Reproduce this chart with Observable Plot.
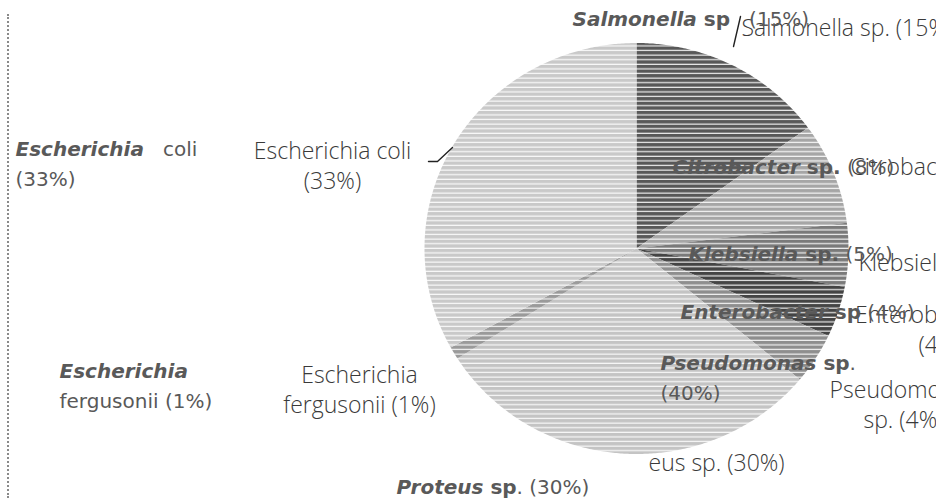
<!DOCTYPE html>
<html><head><meta charset="utf-8">
<script src="https://cdn.jsdelivr.net/npm/d3@7"></script>
<script src="https://cdn.jsdelivr.net/npm/@observablehq/plot@0.6"></script>
<style>
body{margin:0;background:#fff;}
#wrap{position:relative;width:936px;height:498px;overflow:hidden;}
#border{position:absolute;left:7px;top:14px;bottom:0;border-left:2px dotted #8a8a8a;}
</style></head>
<body><div id="wrap"><div id="border"></div></div>
<script>
// ---- data ----
const categories = ["Salmonella sp.", "Citrobacter sp.", "Klebsiella sp.", "Enterobacter sp.", "Pseudomonas sp.", "Proteus sp.", "Escherichia fergusonii", "Escherichia coli"];
const values = [15, 8, 5, 4, 4, 30, 1, 33];
const shades = ["#585858", "#a6a6a6", "#7a7a7a", "#444444", "#8e8e8e", "#c4c4c4", "#9a9a9a", "#c9c9c9"];
const thinLabels = ["Salmonella sp. (15%)", "Citrobacter sp. (8%)", "Klebsiella sp. (5%)", "Enterobacter sp.\n(4%)", "Pseudomonas\nsp. (4%)", "eus sp. (30%)", "Escherichia\nfergusonii (1%)", "Escherichia coli\n(33%)"];
const boldLabels = [
  [[["Salmonella","bi"],[" sp","b"],["   (15%)","r"]]],
  [[["Citrobacter","bi"],[" sp.","b"],[" (8%)","r"]]],
  [[["Klebsiella","bi"],[" sp.","b"],[" (5%)","r"]]],
  [[["Enterobacter","bi"],[" sp","b"],[" (4%)","r"]]],
  [[["Pseudomonas","bi"],[" sp","b"],[".","r"]],[["(40%)","r"]]],
  [[["Proteus","bi"],[" sp","b"],[". (30%)","r"]]],
  [[["Escherichia","bi"]],[["fergusonii (1%)","r"]]],
  [[["Escherichia","bi"],["   coli","r"]],[["(33%)","r"]]]
];

// ---- layout (pixels) ----
const pie = {cx: 636, cy: 248, rx: 212, ry: 205.5};
const boldPos = [[572,25],[672,173],[688,260],[680,318],[660,369],[396,493],[59,377],[15,155]];
const boldGap = 30;
const thinPos = [[741,35,"start"],[850,174,"start"],[858,270,"start"],[940,352,"middle"],[903,427,"middle"],[648,470,"start"],[359,412,"middle"],[332,188,"middle"]];
const leaders = [[[733,46],[740,16]], [[428,161],[437,161],[452,147]]];

const X = px => (px - pie.cx) / pie.rx;
const Y = py => (pie.cy - py) / pie.ry;

// slices
const arcs = d3.pie().sort(null).value(d => d)(values);
const slices = arcs.map((a, i) => {
  const pts = [{x: 0, y: 0}];
  const n = Math.max(2, Math.ceil((a.endAngle - a.startAngle) / (Math.PI / 360)));
  for (let k = 0; k <= n; k++) {
    const t = a.startAngle + (a.endAngle - a.startAngle) * k / n;
    pts.push({x: Math.sin(t), y: Math.cos(t)});
  }
  pts.push({x: 0, y: 0});
  return pts;
});

// bold segments
const BOLD_SIZE = 20;
const ctx = document.createElement("canvas").getContext("2d");
const fontOf = s => (s === "bi" ? "italic bold " : s === "b" ? "bold " : "") + BOLD_SIZE + "px 'DejaVu Sans'";
const segs = [];
boldLabels.forEach((lines, i) => {
  lines.forEach((line, li) => {
    let px = boldPos[i][0];
    const py = boldPos[i][1] + li * boldGap;
    line.forEach(([t, s]) => {
      ctx.font = fontOf(s);
      const lead = t.length - t.trimStart().length;
      const leadW = ctx.measureText(t.slice(0, lead)).width;
      segs.push({x: X(px + leadW), y: Y(py), text: t.trim(), s});
      px += ctx.measureText(t).width;
    });
  });
});
const thin = thinLabels.map((t, i) => ({x: X(thinPos[i][0]), y: Y(thinPos[i][1]), text: t, anchor: thinPos[i][2]}));
const leaderPts = leaders.flatMap((l, i) => l.map(([px, py]) => ({x: X(px), y: Y(py), id: i})));

const boldCommon = {x: "x", y: "y", text: "text", textAnchor: "start", lineAnchor: "bottom", fontFamily: "DejaVu Sans", fontSize: BOLD_SIZE, fill: "#595959"};
const thinCommon = {x: "x", y: "y", text: "text", lineAnchor: "bottom", fontFamily: "Open Sans", fontWeight: 300, fontSize: 23, lineHeight: 30/23, fill: "#3a3a3a"};

const chart = Plot.plot({
  width: 936, height: 498,
  marginLeft: pie.cx - pie.rx, marginRight: 936 - (pie.cx + pie.rx),
  marginTop: pie.cy - pie.ry, marginBottom: 498 - (pie.cy + pie.ry),
  x: {domain: [-1, 1], axis: null},
  y: {domain: [-1, 1], axis: null},
  style: {background: "transparent", overflow: "visible"},
  marks: [
    ...slices.map((pts, i) => Plot.line(pts, {x: "x", y: "y", fill: `url(#pat${i})`, stroke: "none", title: () => `${categories[i]} ${values[i]}%`})),
    Plot.text(thin.filter(d => d.anchor === "start"), {...thinCommon, textAnchor: "start"}),
    Plot.text(thin.filter(d => d.anchor === "middle"), {...thinCommon, textAnchor: "middle"}),
    Plot.line(leaderPts, {x: "x", y: "y", z: "id", stroke: "#222", strokeWidth: 1.4}),
    Plot.text(segs.filter(d => d.s === "bi"), {...boldCommon, fontWeight: "bold", fontStyle: "italic"}),
    Plot.text(segs.filter(d => d.s === "b"), {...boldCommon, fontWeight: "bold"}),
    Plot.text(segs.filter(d => d.s === "r"), {...boldCommon})
  ]
});

const svg = d3.select(chart);
const defs = svg.insert("defs", ":first-child");
shades.forEach((c, i) => {
  const p = defs.append("pattern").attr("id", "pat" + i).attr("patternUnits", "userSpaceOnUse").attr("width", 10).attr("height", 4.6);
  p.append("rect").attr("width", 10).attr("height", 4.6).attr("fill", c);
  p.append("rect").attr("y", 3.4).attr("width", 10).attr("height", 1.2).attr("fill", "#fff").attr("opacity", 0.9);
});
document.getElementById("wrap").prepend(chart);
</script>
</body></html>
